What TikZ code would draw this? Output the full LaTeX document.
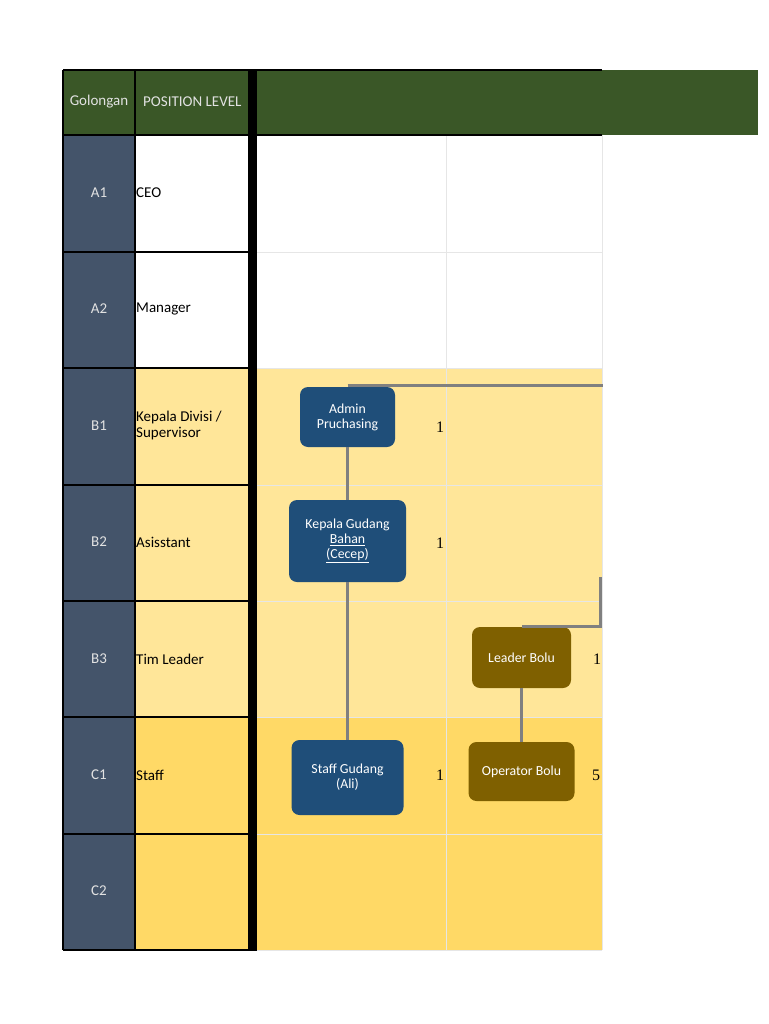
\documentclass[tikz,border=0pt]{standalone}
\usepackage{fontspec}
\setmainfont{Carlito}
\newfontfamily\numfont{Liberation Serif}
\definecolor{hdrgreen}{HTML}{3A5727}
\definecolor{slate}{HTML}{44546A}
\definecolor{lightyel}{HTML}{FFE699}
\definecolor{gold}{HTML}{FFD966}
\definecolor{boxblue}{HTML}{1F4E79}
\definecolor{boxbrown}{HTML}{7F6000}
\definecolor{conngray}{HTML}{808080}
\definecolor{gridgray}{HTML}{E6E6E6}
\definecolor{lighttext}{HTML}{E2E2E2}
\begin{document}
\begin{tikzpicture}[x=1pt,y=-1pt,
  orgbox/.style={rounded corners=8pt, text=white, align=center, inner sep=0pt,
    font=\fontsize{13.8}{15}\selectfont},
  bluebox/.style={orgbox, fill=boxblue},
  brownbox/.style={orgbox, fill=boxbrown},
  conn/.style={draw=conngray, line width=3pt},
  num/.style={font=\numfont\fontsize{16}{16}\selectfont, inner sep=0pt},
  lvl/.style={text=lighttext, font=\fontsize{15}{16}\selectfont, inner sep=0pt},
  poslbl/.style={anchor=west, align=left, text=black, inner sep=0pt, font=\fontsize{15}{16}\selectfont},
  hdr/.style={text=lighttext, font=\fontsize{15}{16}\selectfont, inner sep=0pt},
  grid/.style={draw=gridgray, line width=1pt},
  tbl/.style={draw=black, line width=1.2pt}
]
\useasboundingbox (0,0) rectangle (768,1024);
\fill[white] (0,0) rectangle (768,1024);
% header
\fill[hdrgreen] (63,70) rectangle (758,135);
% column fills
\fill[slate] (63,135) rectangle (135,950);
\fill[white] (135,135) rectangle (248,368);
\fill[lightyel] (135,368) rectangle (248,717);
\fill[gold] (135,717) rectangle (248,950);
\fill[lightyel] (257,368) rectangle (602,717);
\fill[gold] (257,717) rectangle (602,950);
% grid in right area
\foreach \yy in {252,368,485,601,717,834} {\draw[grid] (257,\yy) -- (602,\yy);}
\draw[grid] (446,135) -- (446,950);
\draw[grid] (602,135) -- (602,950);
\draw[grid] (257,950) -- (602,950);
% left table lines
\foreach \yy in {252,368,485,601,717,834} {\draw[tbl] (63,\yy) -- (248,\yy);}
\draw[tbl] (135,70) -- (135,950);
\draw[tbl] (63,70) -- (63,950);
\draw[tbl] (63,950) -- (257,950);
\draw[draw=black, line width=2pt] (63,70) -- (602,70);
\draw[tbl] (63,135) -- (602,135);
\fill[black] (248,70) rectangle (257,950);
% header text
\node[hdr] (hgol) at (99,102) {Golongan};
\node[hdr, anchor=west] (hpos) at (143,102) {POSITION LEVEL};
% levels
\node[lvl] (la1) at (99,193) {A1};
\node[lvl] (la2) at (99,309) {A2};
\node[lvl] (lb1) at (99,426) {B1};
\node[lvl] (lb2) at (99,542) {B2};
\node[lvl] (lb3) at (99,659) {B3};
\node[lvl] (lc1) at (99,775) {C1};
\node[lvl] (lc2) at (99,891) {C2};
% positions
\node[poslbl] (pa1) at (136,193) {CEO};
\node[poslbl] (pa2) at (136,309) {Manager};
\node[poslbl] (pb1) at (136,425) {Kepala Divisi /\\Supervisor};
\node[poslbl] (pb2) at (136,542) {Asisstant};
\node[poslbl] (pb3) at (136,659) {Tim Leader};
\node[poslbl] (pc1) at (136,775) {Staff};
% boxes
\node[bluebox, minimum width=95pt, minimum height=60pt] (admin) at (347.5,417) {Admin\\Pruchasing};
\node[bluebox, minimum width=117pt, minimum height=82pt] (kepala) at (347.5,541) {Kepala Gudang\\\underline{Bahan}\\\underline{(Cecep)}};
\node[bluebox, minimum width=112pt, minimum height=75pt] (staff) at (347.5,777.5) {Staff Gudang\\(Ali)};
\node[brownbox, minimum width=99pt, minimum height=61pt] (leader) at (521.5,657.5) {Leader Bolu};
\node[brownbox, minimum width=106pt, minimum height=59pt] (operator) at (521.5,771.5) {Operator Bolu};
% numbers
\node[num] (n1) at (440,427) {1};
\node[num] (n2) at (440,543) {1};
\node[num] (n3) at (597,659) {1};
\node[num] (n4) at (440,775) {1};
\node[num] (n5) at (596,775) {5};
% connectors
\coordinate (atop) at (347.5,385);
\coordinate (aright) at (603,385);
\coordinate (lbtop) at (600,577);
\draw[conn] (atop) -- (aright);
\draw[conn] (admin.south) -- (kepala.north);
\draw[conn] (kepala.south) -- (staff.north);
\draw[conn] (lbtop) |- (leader.north);
\draw[conn] (leader.south) -- (operator.north);
\end{tikzpicture}
\end{document}
